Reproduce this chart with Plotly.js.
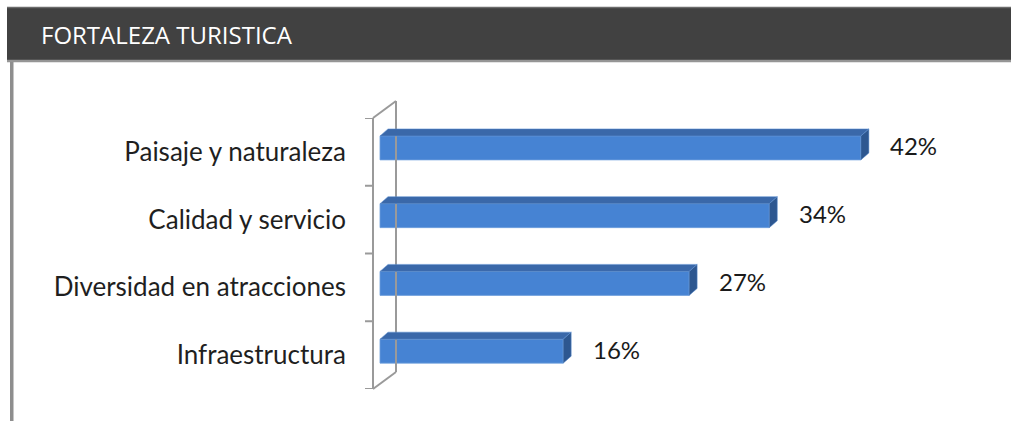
<!DOCTYPE html>
<html><head><meta charset="utf-8">
<script src="https://cdn.plot.ly/plotly-3.0.1.min.js"></script>
<style>html,body{margin:0;padding:0;background:#fff;}#chart{width:1011px;height:421px;}</style>
</head><body><div id="chart"></div>
<script>
// ---- data ----
const chartTitle = 'FORTALEZA TURISTICA';
const categories = ['Paisaje y naturaleza', 'Calidad y servicio', 'Diversidad en atracciones', 'Infraestructura'];
const values = [42, 34, 27, 16];
const valueLabels = ['42%', '34%', '27%', '16%'];

// ---- geometry (pixels) ----
const W = 1011, H = 421;
const L = 373, R = 960, T = 118, B = 389;
const PPU = 11.45;                 // pixels per percent
const catPx = (B - T) / categories.length;
const xMax = (R - L) / PPU;
const dx = p => p / PPU;           // px -> x data
const dy = p => p / catPx;         // px (down) -> y data (reversed axis)
const pX = p => (p - L) / (R - L); // px -> paper x
const pY = p => 1 - (p - T) / (B - T); // px -> paper y

const frontCol = '#4683d3', topCol = '#3a68a9', sideCol = '#2d5790';
const frameCol = '#9a9a9a';
const base = dx(7);
const depthX = dx(8), depthY = dy(7);
const idx = categories.map((c, i) => i);

const shapes = [];
// header band
shapes.push({type:'rect', xref:'paper', yref:'paper', x0:pX(7), x1:pX(1015), y0:pY(61), y1:pY(7), fillcolor:'#414141', line:{width:0}, layer:'below'});
shapes.push({type:'line', xref:'paper', yref:'paper', x0:pX(7), x1:pX(1015), y0:pY(7.5), y1:pY(7.5), line:{color:'#6b6b6b', width:1.5}});
shapes.push({type:'line', xref:'paper', yref:'paper', x0:pX(7), x1:pX(1015), y0:pY(61), y1:pY(61), line:{color:'#959595', width:2.5}});
// left border
shapes.push({type:'rect', xref:'paper', yref:'paper', x0:pX(10), x1:pX(13.5), y0:pY(62), y1:pY(430), fillcolor:'#8e8e8e', line:{width:0}});
// axis frame: front line, back line, diagonals, ticks
shapes.push({type:'line', xref:'paper', yref:'paper', x0:pX(373), x1:pX(373), y0:pY(T), y1:pY(B), line:{color:frameCol, width:2}});
shapes.push({type:'line', xref:'paper', yref:'paper', x0:pX(396), x1:pX(396), y0:pY(T-17), y1:pY(B-17), line:{color:frameCol, width:2}});
shapes.push({type:'line', xref:'paper', yref:'paper', x0:pX(373), x1:pX(396), y0:pY(T), y1:pY(T-17), line:{color:frameCol, width:2}});
shapes.push({type:'line', xref:'paper', yref:'paper', x0:pX(373), x1:pX(396), y0:pY(B), y1:pY(B-17), line:{color:frameCol, width:2}});
for (let k = 0; k <= categories.length; k++) {
  shapes.push({type:'line', xref:'paper', yref:'y', x0:pX(365), x1:pX(373), y0:k-0.5, y1:k-0.5, line:{color:frameCol, width:2}});
}
// 3D faces of bars (top + side), computed from values
values.forEach((v, i) => {
  const x0 = base, x1 = base + v;
  const yTop = i + dy(-16), yBot = i + dy(8);
  shapes.push({type:'path', xref:'x', yref:'y', fillcolor:topCol, line:{color:'#5b8fd0', width:0.5},
    path:`M ${x0} ${yTop} L ${x0+depthX} ${yTop-depthY} L ${x1+depthX} ${yTop-depthY} L ${x1} ${yTop} Z`});
  shapes.push({type:'path', xref:'x', yref:'y', fillcolor:sideCol, line:{color:'#5b8fd0', width:0.5},
    path:`M ${x1} ${yTop} L ${x1+depthX} ${yTop-depthY} L ${x1+depthX} ${yBot-depthY} L ${x1} ${yBot} Z`});
});

const annotations = [];
annotations.push({xref:'paper', yref:'paper', x:pX(39), y:pY(34), xanchor:'left', yanchor:'middle', showarrow:false,
  text:chartTitle, font:{family:'Open Sans, sans-serif', size:24, color:'#ffffff'}});
values.forEach((v, i) => {
  annotations.push({xref:'x', yref:'y', x:base + v + dx(53), y:i + dy(-6), xanchor:'center', yanchor:'middle', showarrow:false,
    text:valueLabels[i], font:{family:'Lato, sans-serif', size:24, color:'#1a1a1a'}});
});

const trace = {
  type:'bar', orientation:'h', x:values, y:idx, base:base,
  width:dy(24), offset:dy(-16),
  marker:{color:frontCol, line:{color:'#6d9edc', width:0.8}},
  hoverinfo:'skip'
};

const layout = {
  width:W, height:H,
  margin:{l:L, r:W-R, t:T, b:H-B, pad:0},
  paper_bgcolor:'#ffffff', plot_bgcolor:'rgba(0,0,0,0)',
  showlegend:false,
  xaxis:{range:[0, xMax], visible:false, fixedrange:true},
  yaxis:{range:[categories.length-0.5, -0.5], tickvals:idx, ticktext:categories, showgrid:false, zeroline:false,
    showline:false, ticks:'', ticklabelstandoff:26,
    tickfont:{family:'Lato, sans-serif', size:26, color:'#1f1f1f'}, fixedrange:true},
  shapes:shapes, annotations:annotations
};
Plotly.newPlot('chart', [trace], layout, {displayModeBar:false, staticPlot:true});
</script></body></html>
